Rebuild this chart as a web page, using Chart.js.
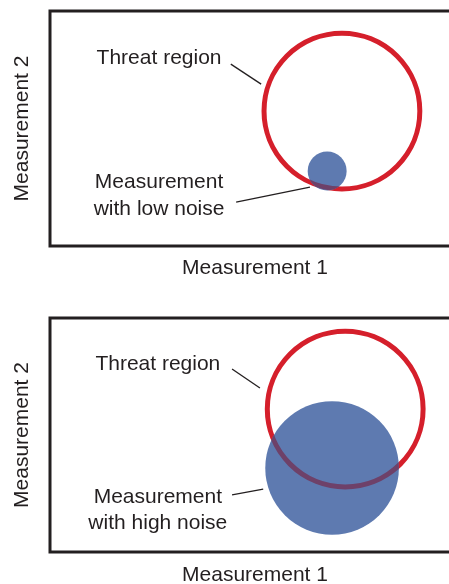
<!DOCTYPE html>
<html>
<head>
<meta charset="utf-8">
<script src="https://cdn.jsdelivr.net/npm/chart.js@4.4.0/dist/chart.umd.min.js"></script>
<style>
    html, body { margin: 0; padding: 0; background: #fff; overflow: hidden; }
    #wrap { position: relative; width: 449px; height: 584px; overflow: hidden; }
    #wrap canvas { position: absolute; left: 0; }
    #top { top: 0; }
    #bottom { top: 290px; }
</style>
</head>
<body>
<div id="wrap">
    <canvas id="top" width="465" height="290"></canvas>
    <canvas id="bottom" width="465" height="300"></canvas>
</div>
<script>
// Values (axis units 0-100), one entry per panel
const panelNames = ['low noise', 'high noise'];
const threatX = [71.2, 72.0];
const threatY = [57.4, 61.1];
const threatR = [19.0, 19.0];
const measX = [67.6, 68.8];
const measY = [31.9, 35.9];
const measR = [4.75, 16.3];

const xTitle = 'Measurement 1';
const yTitle = 'Measurement 2';

const RED = '#d51f2b';
const BLUE = '#5e7ab0';
const OVERLAP = '#6e4169';
const INK = '#231f20';
const FONT = '"Liberation Sans", Arial, sans-serif';

// radius given in x-axis units -> pixels
function unitRadius(c) {
    const sx = c.chart.scales.x;
    return sx.getPixelForValue(c.raw.x + c.raw.r) - sx.getPixelForValue(c.raw.x);
}

// box + annotation texts/leaders
const boxPlugin = {
    id: 'box',
    beforeDatasetDraw(chart, args) {
        if (args.index !== 2) return;
        const el = chart.getDatasetMeta(1).data[0];
        const ctx = chart.ctx;
        ctx.save();
        ctx.beginPath();
        ctx.arc(el.x, el.y, el.options.radius, 0, Math.PI * 2);
        ctx.clip();
    },
    afterDatasetDraw(chart, args) {
        if (args.index !== 2) return;
        chart.ctx.restore();
    },
    afterDraw(chart, args, opts) {
        const ctx = chart.ctx;
        const a = chart.chartArea;
        const sx = chart.scales.x, sy = chart.scales.y;
        ctx.save();
        ctx.strokeStyle = INK;
        ctx.lineWidth = 3;
        ctx.strokeRect(a.left, a.top, a.right - a.left, a.bottom - a.top);

        ctx.fillStyle = INK;
        ctx.font = '21px ' + FONT;
        ctx.textAlign = 'center';
        ctx.textBaseline = 'middle';
        ctx.lineWidth = 1.3;
        opts.notes.forEach((n) => {
            const px = sx.getPixelForValue(n.x);
            const py = sy.getPixelForValue(n.y);
            const lh = 26.5;
            const y0 = py - (n.lines.length - 1) * lh / 2;
            n.lines.forEach((t, i) => ctx.fillText(t, px, y0 + i * lh));
            ctx.beginPath();
            ctx.moveTo(sx.getPixelForValue(n.from[0]), sy.getPixelForValue(n.from[1]));
            ctx.lineTo(sx.getPixelForValue(n.to[0]), sy.getPixelForValue(n.to[1]));
            ctx.stroke();
        });
        ctx.restore();
    }
};

function makeChart(id, i, pad, titlePad, notes) {
    const threat = [{ x: threatX[i], y: threatY[i], r: threatR[i] }];
    const meas = [{ x: measX[i], y: measY[i], r: measR[i] }];
    const axisTitle = (text, p) => ({
        display: true,
        text: text,
        color: INK,
        font: { family: FONT, size: 21, lineHeight: 1.2 },
        padding: p
    });
    return new Chart(document.getElementById(id), {
        type: 'scatter',
        data: {
            datasets: [
                { label: 'Threat region', data: threat, order: 3, pointRadius: unitRadius,
                  pointBackgroundColor: 'rgba(0,0,0,0)', pointBorderColor: RED, pointBorderWidth: 5 },
                { label: 'Measurement with ' + panelNames[i], data: meas, order: 2, pointRadius: unitRadius,
                  pointBackgroundColor: BLUE, pointBorderWidth: 0 },
                { label: 'overlap', data: threat, order: 1, pointRadius: unitRadius,
                  pointBackgroundColor: 'rgba(0,0,0,0)', pointBorderColor: OVERLAP, pointBorderWidth: 5 }
            ]
        },
        options: {
            responsive: false,
            animation: false,
            devicePixelRatio: 1,
            events: [],
            layout: { padding: pad },
            plugins: {
                legend: { display: false },
                tooltip: { enabled: false },
                box: { notes: notes }
            },
            scales: {
                x: {
                    min: 0, max: 100,
                    ticks: { display: false },
                    grid: { display: false, drawTicks: false },
                    border: { display: false },
                    title: axisTitle(xTitle, { top: titlePad, bottom: 0 })
                },
                y: {
                    min: 0, max: 100,
                    ticks: { display: false },
                    grid: { display: false, drawTicks: false },
                    border: { display: false },
                    title: axisTitle(yTitle, { top: 9.4, bottom: 15.4 })
                }
            }
        },
        plugins: [boxPlugin]
    });
}

makeChart('top', 0, { top: 11, left: 0, right: 5, bottom: 9.4 }, 9.4, [
    { lines: ['Threat region'], x: 26.6, y: 80.0, from: [44.1, 77.4], to: [51.5, 68.9] },
    { lines: ['Measurement', 'with low noise'], x: 26.6, y: 21.5, from: [45.4, 18.7], to: [63.4, 25.1] }
]);

makeChart('bottom', 1, { top: 28, left: 0, right: 5, bottom: 2.4 }, 10.4, [
    { lines: ['Threat region'], x: 26.3, y: 80.3, from: [44.4, 78.2], to: [51.2, 70.1] },
    { lines: ['Measurement', 'with high noise'], x: 26.3, y: 17.9, from: [44.4, 24.4], to: [52.0, 26.9] }
]);
</script>
</body>
</html>
